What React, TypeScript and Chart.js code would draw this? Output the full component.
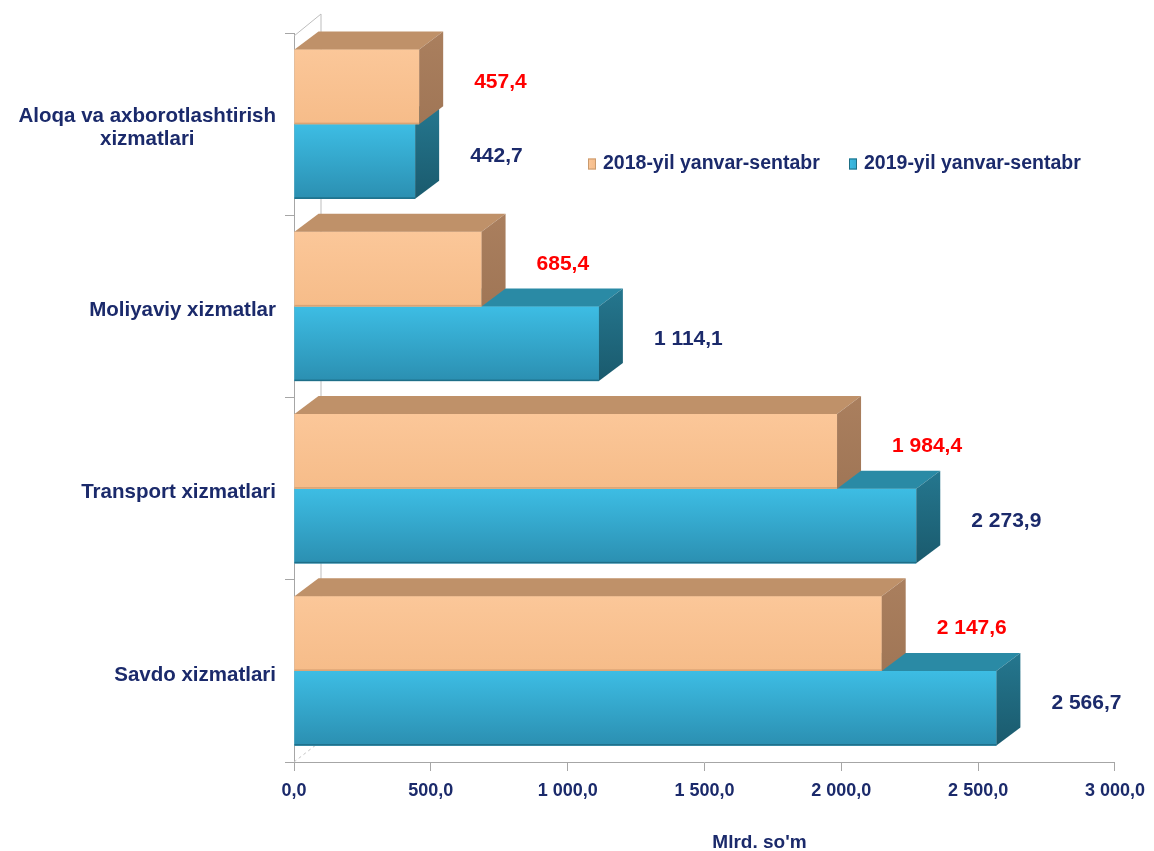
import React, { useEffect, useRef } from 'react';
import { Chart, registerables } from 'chart.js';

Chart.register(...registerables);

const categories: string[][] = [
  ['Aloqa va axborotlashtirish', 'xizmatlari'],
  ['Moliyaviy xizmatlar'],
  ['Transport xizmatlari'],
  ['Savdo xizmatlari'],
];
const series2018 = [457.4, 685.4, 1984.4, 2147.6];
const series2019 = [442.7, 1114.1, 2273.9, 2566.7];
const seriesLabels = ['2018-yil yanvar-sentabr', '2019-yil yanvar-sentabr'];
const xTickLabels = ['0,0', '500,0', '1 000,0', '1 500,0', '2 000,0', '2 500,0', '3 000,0'];
const axisTitle = "Mlrd. so'm";

const FONT = '"Liberation Sans", Arial, sans-serif';
const NAVY = '#1B2A6B';
const RED = '#FF0000';
const AXIS = '#A6A6A6';
const DX = 24;
const DY = 18;

const palettes = [
  {
    frontTop: '#FBC799', frontBottom: '#F6BC89', edge: '#D9A375',
    topFace: '#BF9169', sideTop: '#AA7F5E', sideBottom: '#A07656',
    legend: '#F5BC8A', legendBorder: '#C99A6E', label: RED,
  },
  {
    frontTop: '#3DBDE4', frontBottom: '#2B8FB1', edge: '#1E6E88',
    topFace: '#2A8AA5', sideTop: '#25778F', sideBottom: '#1A5A6D',
    legend: '#33ABD2', legendBorder: '#1F6E84', label: NAVY,
  },
];

function fmt(v: number): string {
  const [ip, dp] = v.toFixed(1).split('.');
  return ip.replace(/\B(?=(\d{3})+(?!\d))/g, ' ') + ',' + dp;
}

const wallPlugin = {
  id: 'wall3d',
  beforeDatasetsDraw(chart: any) {
    const { ctx, chartArea } = chart;
    const { left, top, bottom } = chartArea;
    ctx.save();
    ctx.strokeStyle = '#BDBDBD';
    ctx.lineWidth = 1;
    ctx.beginPath();
    ctx.moveTo(left, top + 3);
    ctx.lineTo(left + 27, top - 19);
    ctx.lineTo(left + 27, bottom - 20);
    ctx.stroke();
    ctx.setLineDash([3, 3]);
    ctx.strokeStyle = '#C4C4C4';
    ctx.beginPath();
    ctx.moveTo(left, bottom);
    ctx.lineTo(left + 27, bottom - 21);
    ctx.stroke();
    ctx.restore();
  },
};

const bar3dPlugin = {
  id: 'bar3d',
  afterDatasetDraw(chart: any, args: any) {
    const ctx = chart.ctx;
    const pal = palettes[args.index];
    ctx.save();
    args.meta.data.forEach((el: any) => {
      const { x, y, base, height } = el.getProps(['x', 'y', 'base', 'height'], true);
      const top = y - height / 2;
      const bottom = y + height / 2;
      const l = base;
      const r = x;
      const g = ctx.createLinearGradient(0, top, 0, bottom);
      g.addColorStop(0, pal.frontTop);
      g.addColorStop(1, pal.frontBottom);
      ctx.fillStyle = g;
      ctx.fillRect(l, top, r - l, bottom - top);
      ctx.fillStyle = pal.edge;
      ctx.fillRect(l, bottom - 1.5, r - l, 1.5);
      ctx.beginPath();
      ctx.moveTo(l, top);
      ctx.lineTo(l + DX, top - DY);
      ctx.lineTo(r + DX, top - DY);
      ctx.lineTo(r, top);
      ctx.closePath();
      ctx.fillStyle = pal.topFace;
      ctx.fill();
      const sg = ctx.createLinearGradient(0, top - DY, 0, bottom);
      sg.addColorStop(0, pal.sideTop);
      sg.addColorStop(1, pal.sideBottom);
      ctx.beginPath();
      ctx.moveTo(r, top);
      ctx.lineTo(r + DX, top - DY);
      ctx.lineTo(r + DX, bottom - DY);
      ctx.lineTo(r, bottom);
      ctx.closePath();
      ctx.fillStyle = sg;
      ctx.fill();
    });
    ctx.restore();
  },
  afterDatasetsDraw(chart: any) {
    const ctx = chart.ctx;
    ctx.save();
    ctx.font = `bold 21px ${FONT}`;
    ctx.textAlign = 'left';
    ctx.textBaseline = 'middle';
    chart.data.datasets.forEach((ds: any, di: number) => {
      const meta = chart.getDatasetMeta(di);
      meta.data.forEach((el: any, i: number) => {
        const { x, y } = el.getProps(['x', 'y'], true);
        ctx.fillStyle = palettes[di].label;
        ctx.fillText(fmt(ds.data[i]), x + DX + 31, y - 5);
      });
    });
    ctx.restore();
  },
};

const labelsPlugin = {
  id: 'labels',
  afterDraw(chart: any) {
    const { ctx, scales, chartArea } = chart;
    const yScale = scales.y;
    ctx.save();
    ctx.fillStyle = NAVY;
    ctx.textBaseline = 'middle';
    ctx.font = `bold 20.5px ${FONT}`;
    ctx.textAlign = 'center';
    const lh = 23;
    categories.forEach((lines, i) => {
      const yc = yScale.getPixelForValue(i) + 4;
      const w = Math.max(...lines.map((s) => ctx.measureText(s).width));
      const cx = chartArea.left - 18 - w / 2;
      const y0 = yc - ((lines.length - 1) * lh) / 2;
      lines.forEach((s, k) => ctx.fillText(s, cx, y0 + k * lh));
    });
    ctx.textAlign = 'left';
    ctx.font = `bold 19.5px ${FONT}`;
    const legendX = [588, 849];
    const legendY = 164;
    seriesLabels.forEach((s, i) => {
      const pal = palettes[i];
      const lx = legendX[i];
      const g = ctx.createLinearGradient(lx, 0, lx + 8, 0);
      g.addColorStop(0, pal.frontTop);
      g.addColorStop(1, pal.legend);
      ctx.fillStyle = g;
      ctx.fillRect(lx, legendY - 5.5, 8, 11);
      ctx.strokeStyle = pal.legendBorder;
      ctx.lineWidth = 1;
      ctx.strokeRect(lx + 0.5, legendY - 5, 7, 10);
      ctx.fillStyle = NAVY;
      ctx.fillText(s, lx + 15, legendY);
    });
    ctx.font = `bold 19px ${FONT}`;
    ctx.textAlign = 'center';
    ctx.fillText(axisTitle, chartArea.left + (chartArea.right - chartArea.left) * 0.567, 843);
    ctx.restore();
  },
};

export default function App() {
  const ref = useRef<HTMLCanvasElement | null>(null);
  useEffect(() => {
    if (!ref.current) return;
    const chart = new Chart(ref.current, {
      type: 'bar',
      data: {
        labels: categories.map((c) => c.join(' ')),
        datasets: [
          { label: seriesLabels[0], data: series2018, backgroundColor: palettes[0].frontTop, borderWidth: 0 },
          { label: seriesLabels[1], data: series2019, backgroundColor: palettes[1].frontTop, borderWidth: 0 },
        ],
      },
      options: {
        indexAxis: 'y',
        animation: false,
        responsive: false,
        devicePixelRatio: 1,
        events: [],
        layout: { padding: { top: 33, right: 38, left: 0, bottom: 0 } },
        datasets: { bar: { categoryPercentage: 0.82, barPercentage: 1 } },
        plugins: { legend: { display: false }, tooltip: { enabled: false } },
        scales: {
          x: {
            min: 0,
            max: 3000,
            ticks: {
              stepSize: 500,
              autoSkip: false,
              maxRotation: 0,
              padding: 9,
              color: NAVY,
              font: { family: FONT, size: 18, weight: 'bold' },
              callback: (_v: any, i: number) => xTickLabels[i],
            },
            grid: { drawOnChartArea: false, drawTicks: true, tickLength: 9, color: AXIS },
            border: { display: true, color: AXIS },
            afterFit: (s: any) => { s.height = 89; },
          },
          y: {
            ticks: { display: false },
            grid: { offset: true, drawOnChartArea: false, drawTicks: true, tickLength: 9, color: AXIS },
            border: { display: true, color: AXIS },
            afterFit: (s: any) => { s.width = 294; },
          },
        },
      } as any,
      plugins: [wallPlugin, bar3dPlugin, labelsPlugin],
    });
    return () => chart.destroy();
  }, []);
  return (
    <div style={{ position: 'absolute', left: 0, top: 0, width: 1154, height: 851, background: '#fff' }}>
      <canvas ref={ref} width={1154} height={851} style={{ display: 'block', width: 1154, height: 851 }} />
    </div>
  );
}
